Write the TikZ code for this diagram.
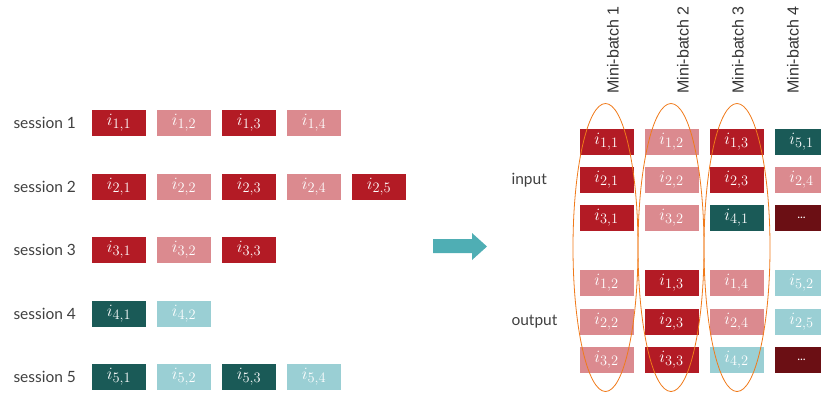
\documentclass[tikz,border=0pt]{standalone}
\usepackage{fontspec}
\setmainfont{Lato}
\newfontfamily\batchfont{Liberation Sans}
\newcommand{\itm}[2]{$i_{\scalebox{1.2}{$\scriptstyle #1,#2$}}$}
\definecolor{dred}{HTML}{B31B25}
\definecolor{lred}{HTML}{DB8A8F}
\definecolor{dteal}{HTML}{1A5A57}
\definecolor{lteal}{HTML}{9ACFD4}
\definecolor{maroon}{HTML}{6B0F14}
\definecolor{arrowteal}{HTML}{4FAEB4}
\definecolor{ring}{HTML}{F07A1A}
\begin{document}
\begin{tikzpicture}[x=1pt, y=-1pt,
  item/.style={minimum width=54pt, minimum height=26pt, inner sep=0pt, text=white, font=\fontsize{17.28}{17.28}\selectfont},
  dr/.style={item, fill=dred}, lr/.style={item, fill=lred},
  dt/.style={item, fill=dteal}, lt/.style={item, fill=lteal},
  mr/.style={item, fill=maroon},
  lab/.style={anchor=west, text=black!75, font=\fontsize{15.5}{15.5}\selectfont},
  batch/.style={rotate=90, anchor=west, text=black!80, font=\batchfont\fontsize{16}{16}\selectfont}]
\useasboundingbox (0,0) rectangle (821,392);
% sessions
\node[lab] (s1) at (10,123){session 1};
\node[lab] (s2) at (10,187){session 2};
\node[lab] (s3) at (10,250){session 3};
\node[lab] (s4) at (10,314){session 4};
\node[lab] (s5) at (10,377){session 5};
\node[dr] (a11) at (119,123){\itm{1}{1}};
\node[lr] (a12) at (184,123){\itm{1}{2}};
\node[dr] (a13) at (249,123){\itm{1}{3}};
\node[lr] (a14) at (314,123){\itm{1}{4}};
\node[dr] (a21) at (119,187){\itm{2}{1}};
\node[lr] (a22) at (184,187){\itm{2}{2}};
\node[dr] (a23) at (249,187){\itm{2}{3}};
\node[lr] (a24) at (314,187){\itm{2}{4}};
\node[dr] (a25) at (379,187){\itm{2}{5}};
\node[dr] (a31) at (119,250){\itm{3}{1}};
\node[lr] (a32) at (184,250){\itm{3}{2}};
\node[dr] (a33) at (249,250){\itm{3}{3}};
\node[dt] (a41) at (119,314){\itm{4}{1}};
\node[lt] (a42) at (184,314){\itm{4}{2}};
\node[dt] (a51) at (119,377){\itm{5}{1}};
\node[lt] (a52) at (184,377){\itm{5}{2}};
\node[dt] (a53) at (249,377){\itm{5}{3}};
\node[lt] (a54) at (314,377){\itm{5}{4}};
% arrow
\fill[arrowteal] (433,239)--(472,239)--(472,233)--(487,246.5)--(472,260)--(472,253)--(433,253)--cycle;
% mini-batches
\node[lab] (in) at (508,180){input};
\node[lab] (out) at (508,321.5){output};
\node[batch] (mb1) at (613,97){Mini-batch 1};
\node[batch] (mb2) at (683,97){Mini-batch 2};
\node[batch] (mb3) at (738,97){Mini-batch 3};
\node[batch] (mb4) at (793,97){Mini-batch 4};
\node[dr] (b11) at (606.5,141.5){\itm{1}{1}};
\node[dr] (b21) at (606.5,180){\itm{2}{1}};
\node[dr] (b31) at (606.5,218){\itm{3}{1}};
\node[lr] (c11) at (606.5,283){\itm{1}{2}};
\node[lr] (c21) at (606.5,321.5){\itm{2}{2}};
\node[lr] (c31) at (606.5,360){\itm{3}{2}};
\node[lr] (b12) at (671.5,141.5){\itm{1}{2}};
\node[lr] (b22) at (671.5,180){\itm{2}{2}};
\node[lr] (b32) at (671.5,218){\itm{3}{2}};
\node[dr] (c12) at (671.5,283){\itm{1}{3}};
\node[dr] (c22) at (671.5,321.5){\itm{2}{3}};
\node[dr] (c32) at (671.5,360){\itm{3}{3}};
\node[dr] (b13) at (736.5,141.5){\itm{1}{3}};
\node[dr] (b23) at (736.5,180){\itm{2}{3}};
\node[dt] (b33) at (736.5,218){\itm{4}{1}};
\node[lr] (c13) at (736.5,283){\itm{1}{4}};
\node[lr] (c23) at (736.5,321.5){\itm{2}{4}};
\node[lt] (c33) at (736.5,360){\itm{4}{2}};
\node[dt] (b14) at (801.5,141.5){\itm{5}{1}};
\node[lr] (b24) at (801.5,180){\itm{2}{4}};
\node[mr, font=\fontsize{12}{12}\selectfont] (b34) at (801.5,218){...};
\node[lt] (c14) at (801.5,283){\itm{5}{2}};
\node[lt] (c24) at (801.5,321.5){\itm{2}{5}};
\node[mr, font=\fontsize{12}{12}\selectfont] (c34) at (801.5,360){...};
% rings
\draw[ring, thick] (605.5,247.5) ellipse [x radius=32.5, y radius=144];
\draw[ring, thick] (671,247.5) ellipse [x radius=33, y radius=144];
\draw[ring, thick] (737,247.5) ellipse [x radius=33, y radius=144];
\end{tikzpicture}
\end{document}
